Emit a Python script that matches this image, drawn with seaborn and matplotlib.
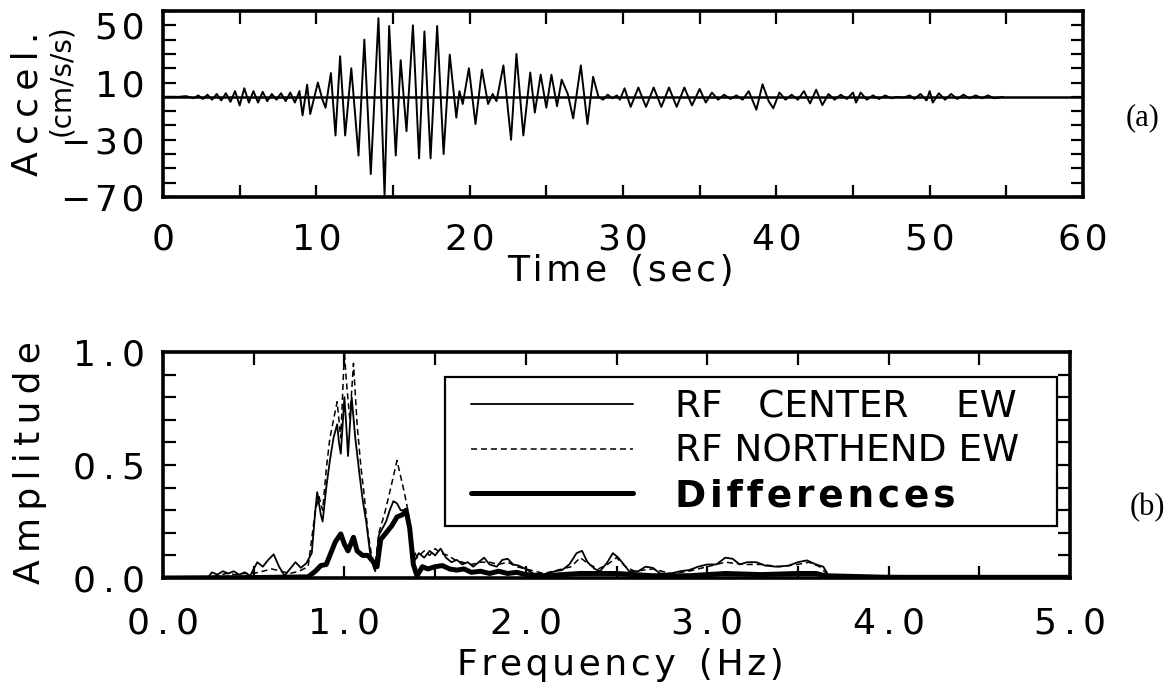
import numpy as np
import pandas as pd
import matplotlib
matplotlib.use("Agg")
import matplotlib.pyplot as plt
import seaborn as sns
from matplotlib.lines import Line2D
from matplotlib.legend_handler import HandlerLine2D
from matplotlib.ticker import MultipleLocator, FixedLocator, FuncFormatter

# ---------------- data ----------------
time_s = [0.0, 1.0, 1.5, 2.0, 2.3, 2.6, 2.9, 3.2, 3.5, 3.8, 4.1, 4.4, 4.7, 5.0, 5.3, 5.6,
          5.9, 6.2, 6.5, 6.8, 7.1, 7.4, 7.7, 8.0, 8.3, 8.6, 8.9,
          9.1, 9.4, 9.6, 10.1, 10.4, 10.6, 10.95, 11.25, 11.55, 11.88, 12.28, 12.75,
          13.13, 13.55, 14.05, 14.45, 14.75, 15.18, 15.5, 15.88, 16.3, 16.7, 17.05,
          17.45, 17.88, 18.3, 18.7, 19.13, 19.33, 19.55, 19.95, 20.38, 20.8, 21.2,
          21.5, 21.75, 22.2, 22.7, 23.05, 23.5, 23.95, 24.25, 24.63, 25.0, 25.33,
          25.7, 26.0, 26.4, 26.75, 27.25, 27.68, 28.05, 28.4, 28.7, 29.0, 29.3, 29.6,
          29.8, 30.1, 30.5, 31.0, 31.5, 32.0, 32.5, 33.0, 33.5, 34.0, 34.5, 35.0,
          35.4, 35.8, 36.2, 36.6, 37.0, 37.4, 37.8, 38.2, 38.7, 39.1, 39.5, 39.8,
          40.2, 40.6, 41.0, 41.4, 41.8, 42.2, 42.6, 43.0, 43.4, 43.8, 44.2, 44.6,
          45.0, 45.2, 45.5, 45.9, 46.3, 46.7, 47.1, 47.5, 47.9, 48.3, 48.7, 49.0,
          49.4, 49.8, 50.0, 50.2, 50.6, 51.0, 51.4, 51.8, 52.2, 52.6, 53.0, 53.4,
          53.8, 54.2, 54.8]
accel = [0.0, 0.0, 0.5, -1.0, 1.0, -1.5, 1.5, -2.0, 2.0, -2.5, 2.5, -3.5, 4.0, -6.0, 6.0, -4.0,
         4.0, -4.0, 3.5, -3.0, 2.0, -2.0, 2.5, -3.0, 3.0, -4.0, 4.0,
         -13.0, 8.5, -12.0, 10.0, -2.0, -7.6, 16.6, -27.0, 28.4, -27.0, 20.0, -41.0,
         40.0, -54.0, 55.0, -69.0, 49.5, -41.0, 25.6, -24.0, 50.0, -43.0, 45.7,
         -43.0, 49.5, -40.0, 29.5, -14.5, 4.0, -5.0, 20.0, -19.0, 19.0, -5.0,
         2.0, -3.0, 22.0, -30.0, 30.0, -27.0, 17.0, -11.0, 15.5, -7.6, 15.5,
         -6.5, 12.0, 2.0, -15.0, 22.0, -19.0, 14.0, 0.0, -2.0, 1.5, -1.0, 1.0,
         -2.0, 6.0, -7.0, 6.5, -7.0, 6.5, -7.0, 6.5, -7.0, 6.5, -6.0, 5.5,
         -4.0, 3.0, -2.0, 1.5, -1.5, 1.0, -2.0, 4.0, -9.0, 8.8, -3.0, -8.0,
         3.0, -2.0, 1.5, -2.0, 4.0, -4.6, 5.0, -5.8, 2.0, -2.0, 1.5, -1.5,
         3.0, -4.0, 3.0, -2.0, 1.0, -1.5, 1.0, -1.0, 0.0, -0.5, 1.0, -1.5,
         2.0, -2.5, 4.0, -4.0, 2.5, -2.0, 2.0, -1.5, 1.5, -1.0, 1.0, -1.0,
         1.0, -1.0, 0.0]

freq_center = [0.0, 0.2, 0.25, 0.27, 0.30, 0.33, 0.36, 0.39, 0.42, 0.45, 0.48, 0.52, 0.55,
               0.58, 0.61, 0.64, 0.67, 0.70, 0.73, 0.76, 0.79, 0.82, 0.84, 0.85, 0.87,
               0.88, 0.90, 0.92, 0.94, 0.96, 0.97, 0.98, 1.00, 1.01, 1.02, 1.04, 1.06,
               1.08, 1.10, 1.12, 1.14, 1.16, 1.17, 1.19, 1.21, 1.23, 1.25, 1.27, 1.29,
               1.31, 1.33, 1.35, 1.37, 1.39, 1.41, 1.44, 1.47, 1.50, 1.53, 1.56, 1.59,
               1.62, 1.65, 1.68, 1.71, 1.74, 1.77, 1.80, 1.84, 1.87, 1.90, 1.93, 1.96,
               2.00, 2.04, 2.08, 2.12, 2.16, 2.20, 2.24, 2.28, 2.31, 2.34, 2.38, 2.41,
               2.45, 2.48, 2.51, 2.54, 2.57, 2.62, 2.66, 2.70, 2.74, 2.80, 2.85, 2.90,
               2.95, 3.00, 3.05, 3.10, 3.14, 3.18, 3.22, 3.27, 3.32, 3.38, 3.45, 3.50,
               3.55, 3.60, 3.64, 3.67, 3.75, 3.90, 4.00, 4.20, 4.40, 4.60, 4.80, 5.00]
amp_center = [0.0, 0.0, 0.005, 0.025, 0.015, 0.03, 0.02, 0.03, 0.015, 0.025, 0.01, 0.07, 0.05,
              0.08, 0.105, 0.05, 0.01, 0.04, 0.07, 0.045, 0.065, 0.11, 0.30, 0.38, 0.28,
              0.25, 0.40, 0.52, 0.62, 0.68, 0.60, 0.55, 0.80, 0.68, 0.54, 0.80, 0.62,
              0.48, 0.35, 0.25, 0.12, 0.05, 0.03, 0.19, 0.22, 0.25, 0.30, 0.34, 0.33,
              0.30, 0.30, 0.28, 0.12, 0.08, 0.11, 0.09, 0.12, 0.10, 0.13, 0.09, 0.07,
              0.08, 0.06, 0.07, 0.05, 0.07, 0.09, 0.06, 0.05, 0.08, 0.085, 0.06, 0.055,
              0.04, 0.02, 0.01, 0.02, 0.03, 0.035, 0.06, 0.11, 0.12, 0.07, 0.04, 0.03,
              0.07, 0.11, 0.09, 0.06, 0.03, 0.03, 0.05, 0.045, 0.02, 0.02, 0.03, 0.035,
              0.05, 0.06, 0.06, 0.09, 0.085, 0.06, 0.07, 0.07, 0.055, 0.05, 0.055, 0.07,
              0.078, 0.06, 0.05, 0.01, 0.008, 0.006, 0.01, 0.008, 0.006, 0.006, 0.005, 0.005]

freq_north = [0.0, 0.2, 0.25, 0.30, 0.35, 0.40, 0.45, 0.50, 0.55, 0.60, 0.65, 0.70, 0.75,
              0.80, 0.84, 0.86, 0.88, 0.90, 0.92, 0.94, 0.96, 0.98, 1.00, 1.01, 1.03,
              1.05, 1.07, 1.09, 1.11, 1.13, 1.15, 1.17, 1.19, 1.22, 1.25, 1.27, 1.29,
              1.31, 1.33, 1.35, 1.37, 1.40, 1.44, 1.47, 1.50, 1.53, 1.57, 1.61, 1.65,
              1.70, 1.75, 1.80, 1.85, 1.90, 1.95, 2.00, 2.05, 2.10, 2.15, 2.20, 2.25,
              2.30, 2.35, 2.40, 2.45, 2.50, 2.55, 2.60, 2.70, 2.80, 2.90, 3.00, 3.10,
              3.20, 3.30, 3.40, 3.50, 3.56, 3.62, 3.67, 3.80, 4.00, 4.50, 5.00]
amp_north = [0.0, 0.0, 0.004, 0.01, 0.02, 0.015, 0.02, 0.02, 0.03, 0.04, 0.03, 0.02, 0.03,
             0.05, 0.30, 0.36, 0.30, 0.48, 0.62, 0.70, 0.78, 0.62, 1.00, 0.88, 0.70,
             0.95, 0.68, 0.50, 0.36, 0.20, 0.10, 0.06, 0.20, 0.28, 0.38, 0.45, 0.52,
             0.45, 0.38, 0.30, 0.15, 0.09, 0.12, 0.10, 0.13, 0.11, 0.10, 0.08, 0.07,
             0.06, 0.07, 0.07, 0.06, 0.07, 0.05, 0.04, 0.03, 0.02, 0.03, 0.04, 0.05,
             0.09, 0.06, 0.04, 0.06, 0.09, 0.05, 0.03, 0.04, 0.02, 0.03, 0.05, 0.07,
             0.06, 0.06, 0.05, 0.06, 0.07, 0.05, 0.01, 0.007, 0.006, 0.006, 0.005]

freq_diff = [0.0, 0.5, 0.80, 0.84, 0.87, 0.90, 0.92, 0.95, 0.98, 1.00, 1.02, 1.05, 1.07,
             1.10, 1.13, 1.16, 1.18, 1.20, 1.23, 1.26, 1.29, 1.32, 1.34, 1.36, 1.38,
             1.40, 1.43, 1.46, 1.50, 1.54, 1.58, 1.62, 1.66, 1.70, 1.75, 1.80, 1.85,
             1.90, 1.95, 2.00, 2.10, 2.30, 2.50, 2.70, 2.90, 3.10, 3.30, 3.50, 3.60,
             3.65, 4.00, 5.00]
amp_diff = [0.0, 0.002, 0.005, 0.03, 0.055, 0.06, 0.10, 0.16, 0.195, 0.15, 0.12, 0.18, 0.12,
            0.10, 0.10, 0.07, 0.05, 0.17, 0.20, 0.23, 0.27, 0.28, 0.30, 0.22, 0.06,
            0.01, 0.05, 0.04, 0.05, 0.055, 0.04, 0.035, 0.04, 0.025, 0.03, 0.02, 0.03,
            0.02, 0.025, 0.015, 0.01, 0.02, 0.02, 0.01, 0.01, 0.02, 0.015, 0.02, 0.02,
            0.01, 0.003, 0.003]

series_labels = ["RF   CENTER    EW", "RF NORTHEND EW", "Differences"]
x_ticks_time = [0, 10, 20, 30, 40, 50, 60]
y_ticks_accel = [-70, -30, 10, 50]

# ---------------- style ----------------
sns.set_style("ticks")
plt.rcParams["font.family"] = ["DejaVu Sans"]
for k in ("text.color", "axes.labelcolor", "xtick.color", "ytick.color", "axes.edgecolor"):
    plt.rcParams[k] = "black"

TS = "\u2009"   # thin space for the wide letter spacing of the original
HS = "\u200a"   # hair space

def spaced(s, sep):
    return sep.join(list(s))

fig = plt.figure(figsize=(11.73, 6.94), dpi=100)
W, H = 1173.0, 694.0

def px_axes(l, t, r, b):
    return [l / W, 1 - b / H, (r - l) / W, (b - t) / H]

ax1 = fig.add_axes(px_axes(163, 11, 1083, 197))
ax2 = fig.add_axes(px_axes(163, 352, 1070, 578))

# ---------------- top: acceleration ----------------
df_a = pd.DataFrame({"t": time_s, "a": accel})
sns.lineplot(data=df_a, x="t", y="a", ax=ax1, color="black", linewidth=1.4)
ax1.axhline(0, color="black", linewidth=1.8, zorder=1)
ax1.set_xlim(0, 60)
ax1.set_ylim(-70, 60)
ax1.xaxis.set_major_locator(FixedLocator(x_ticks_time))
ax1.xaxis.set_minor_locator(MultipleLocator(5))
ax1.yaxis.set_major_locator(FixedLocator(y_ticks_accel))
ax1.yaxis.set_minor_locator(MultipleLocator(10))
ax1.xaxis.set_major_formatter(FuncFormatter(lambda v, p: spaced("%d" % v, HS)))
ax1.yaxis.set_major_formatter(FuncFormatter(
    lambda v, p: spaced(("%d" % v).replace("-", "\u2212"), HS)))

# ---------------- bottom: spectra ----------------
df_c = pd.DataFrame({"f": freq_center, "A": amp_center})
df_n = pd.DataFrame({"f": freq_north, "A": amp_north})
df_d = pd.DataFrame({"f": freq_diff, "A": amp_diff})
sns.lineplot(data=df_c, x="f", y="A", ax=ax2, color="black", linewidth=1.3,
             label=series_labels[0])
sns.lineplot(data=df_n, x="f", y="A", ax=ax2, color="black", linewidth=1.1,
             linestyle=(0, (4, 2.5)), label=series_labels[1])
sns.lineplot(data=df_d, x="f", y="A", ax=ax2, color="black", linewidth=3.6,
             label=series_labels[2])
ax2.set_xlim(0, 5)
ax2.set_ylim(0, 1.0)
ax2.xaxis.set_major_locator(MultipleLocator(1.0))
ax2.xaxis.set_minor_locator(MultipleLocator(0.5))
ax2.yaxis.set_major_locator(MultipleLocator(0.5))
ax2.yaxis.set_minor_locator(MultipleLocator(0.1))
fmt1 = FuncFormatter(lambda v, p: spaced("%.1f" % v, TS))
ax2.xaxis.set_major_formatter(fmt1)
ax2.yaxis.set_major_formatter(fmt1)

for ax, xpad in ((ax1, 18), (ax2, 20.5)):
    ax.set_xlabel("")
    ax.set_ylabel("")
    ax.tick_params(which="both", direction="in", top=True, right=True,
                   length=9, width=1.6, colors="black", labelsize=26)
    ax.tick_params(axis="x", which="both", pad=xpad)
    ax.tick_params(axis="y", which="both", pad=13)
    for s in ax.spines.values():
        s.set_visible(True)
        s.set_linewidth(2.6)
        s.set_color("black")


class OffsetLine(HandlerLine2D):
    """Legend line that starts a little to the right of the handle box."""
    def __init__(self, offset, **kw):
        super().__init__(**kw)
        self.offset = offset

    def create_artists(self, legend, orig_handle, xdescent, ydescent, width,
                       height, fontsize, trans):
        arts = super().create_artists(legend, orig_handle, xdescent, ydescent,
                                      width, height, fontsize, trans)
        for a in arts:
            xd = np.asarray(a.get_xdata(), float)
            if len(xd) >= 2:
                a.set_xdata(np.linspace(xd.min() + self.offset, xd.max(), len(xd)))
        return arts


leg = ax2.legend(loc="upper left", bbox_to_anchor=(0.311, 0.221, 0.675, 0.668),
                 mode="expand", fontsize=27, handlelength=4.69, handletextpad=1.12,
                 labelspacing=0.23, borderpad=0.32, borderaxespad=0,
                 fancybox=False, framealpha=1, edgecolor="black",
                 handler_map={Line2D: OffsetLine(10.0)})
leg.get_frame().set_linewidth(1.6)
leg.get_texts()[2].set_fontweight("bold")
leg.get_texts()[2].set_text(spaced("Differences", HS))

# ---------------- axis titles & panel tags ----------------
def ftext(x, y, s, **kw):
    fig.text(x / W, 1 - y / H, s, ha="center", va="center", **kw)

ftext(620, 271, spaced("Time", HS) + "  " + spaced("(sec)", HS), fontsize=26)
ftext(620, 665, spaced("Frequency", HS) + "  " + spaced("(Hz)", HS), fontsize=26)
ftext(30, 463, spaced("Amplitude", TS), fontsize=26, rotation=90)
ftext(28, 104, spaced("Accel.", TS), fontsize=26, rotation=90)
ftext(61, 80, "(cm/s/s)", fontsize=20, rotation=90)
ftext(1143, 118, "(a)", fontsize=22, family="Liberation Serif")
ftext(1147, 508, "(b)", fontsize=22, family="Liberation Serif")

fig.savefig("out.png", dpi=100)
